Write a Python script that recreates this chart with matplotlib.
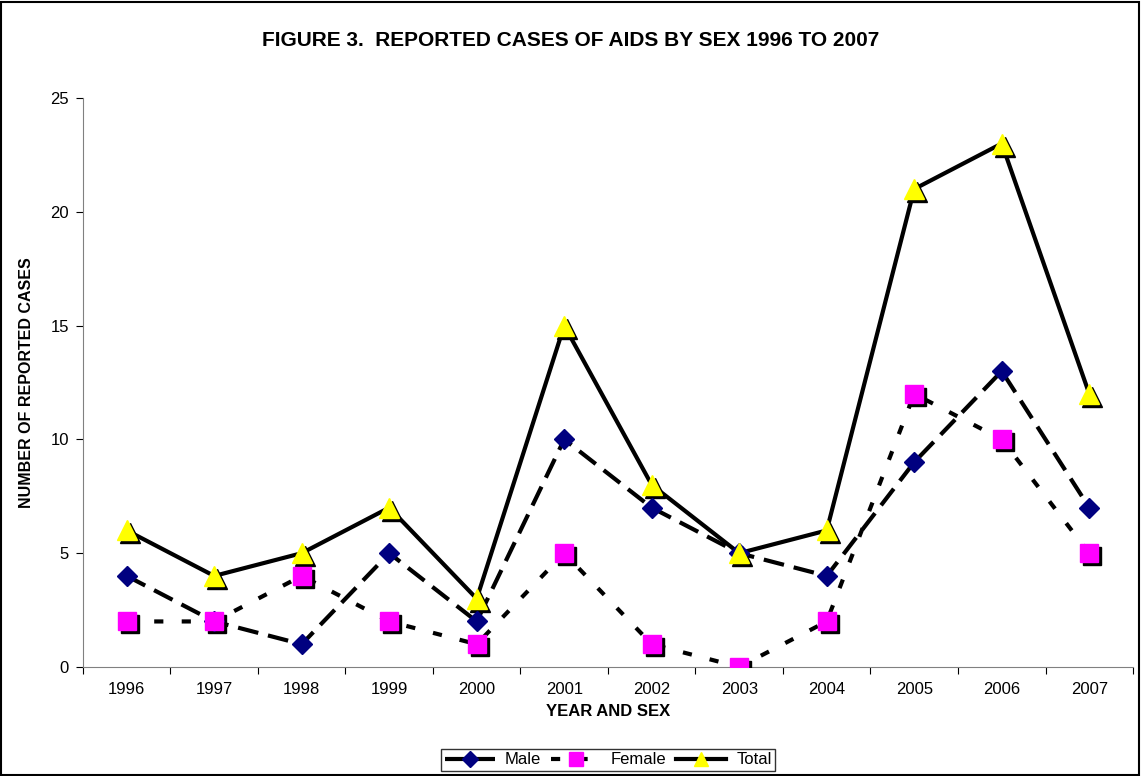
import matplotlib
matplotlib.use("Agg")
import matplotlib.pyplot as plt
import matplotlib.transforms as mtransforms
from matplotlib.lines import Line2D
from matplotlib.patches import Rectangle
import numpy as np

plt.rcParams['font.family'] = ['Liberation Sans', 'DejaVu Sans']

years = ["1996", "1997", "1998", "1999", "2000", "2001", "2002", "2003", "2004", "2005", "2006", "2007"]
male = [4, 2, 1, 5, 2, 10, 7, 5, 4, 9, 13, 7]
female = [2, 2, 4, 2, 1, 5, 1, 0, 2, 12, 10, 5]
total = [6, 4, 5, 7, 3, 15, 8, 5, 6, 21, 23, 12]

fig = plt.figure(figsize=(11.41, 7.76), dpi=100)
ax = fig.add_axes([0.0727, 0.1405, 0.9203, 0.7332])

x = np.arange(len(years))

def shadow(dx=3, dy=-3):
    return mtransforms.offset_copy(ax.transData, fig=fig, x=dx, y=dy, units='dots')

LW = 3.0
MALE_DASH = (5.0, 2.4)
FEM_DASH = (2.2, 4.4)

# lines
ax.plot(x, male, color='black', lw=LW, dashes=MALE_DASH, zorder=2)
ax.plot(x, female, color='black', lw=LW, dashes=FEM_DASH, zorder=2)
ax.plot(x, total, color='black', lw=LW, zorder=2)

# shadows
ax.plot(x, female, ls='none', marker='s', ms=13, color='black', transform=shadow(3, -3), zorder=3)
ax.plot(x, total, ls='none', marker='^', ms=14, color='black', transform=shadow(3, -3), zorder=3)

ax.plot(x, male, ls='none', marker='D', ms=10, mfc='#000080', mec='#000080', zorder=4)
ax.plot(x, female, ls='none', marker='s', ms=13, mfc='#FF00FF', mec='#FF00FF', zorder=4)
ax.plot(x, total, ls='none', marker='^', ms=14, mfc='#FFFF00', mec='#FFFF00', zorder=4)

ax.set_xlim(-0.5, len(years) - 0.5)
ax.set_ylim(0, 25)
ax.set_yticks([0, 5, 10, 15, 20, 25])
ax.set_xticks(np.arange(-0.5, len(years), 1.0))
ax.set_xticklabels([])
ax.set_xticks(x, minor=True)
ax.set_xticklabels(years, minor=True)
ax.tick_params(axis='x', which='minor', length=0, pad=11, labelsize=12)
ax.tick_params(axis='x', which='major', length=5, direction='out', color='black')
ax.tick_params(axis='y', length=5, direction='out', labelsize=12, pad=5)

for s in ['top', 'right']:
    ax.spines[s].set_visible(False)
ax.spines['left'].set_color('#808080')
ax.spines['bottom'].set_color('#808080')

ax.set_xlabel("YEAR AND SEX", fontsize=12, fontweight='bold', labelpad=5)
ax.set_ylabel("NUMBER OF REPORTED CASES", fontsize=11.5, fontweight='bold', labelpad=12)
fig.text(0.5, 1 - 40 / 776, "FIGURE 3.  REPORTED CASES OF AIDS BY SEX 1996 TO 2007",
         ha='center', va='center', fontsize=15, fontweight='bold')

handles = [
    Line2D([], [], color='black', lw=LW, dashes=MALE_DASH, marker='D', ms=8, mfc='#000080', mec='#000080'),
    Line2D([], [], color='black', lw=LW, dashes=FEM_DASH, marker='s', ms=10, mfc='#FF00FF', mec='#FF00FF'),
    Line2D([], [], color='black', lw=LW, marker='^', ms=10, mfc='#FFFF00', mec='#FFFF00'),
]
leg = fig.legend(handles, ["Male", "Female", "Total"], loc='center', bbox_to_anchor=(0.533, 1 - 760 / 776),
                 ncol=3, frameon=True, fontsize=12, handlelength=3.0, handletextpad=0.6,
                 columnspacing=0.6, borderpad=0.2, fancybox=False, edgecolor='black')
leg.get_frame().set_linewidth(1.0)

fig.patches.append(Rectangle((0.001, 0.001), 0.997, 0.997, transform=fig.transFigure,
                             fill=False, edgecolor='black', lw=1.5))

fig.savefig("out.png", dpi=100)
